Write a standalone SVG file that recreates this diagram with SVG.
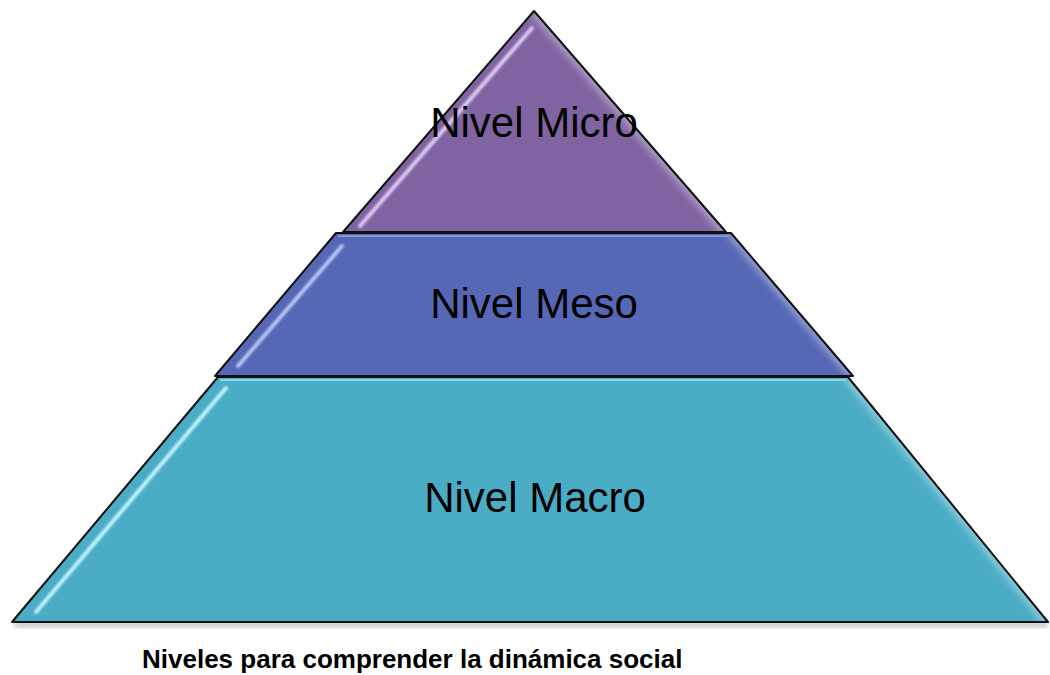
<svg xmlns="http://www.w3.org/2000/svg" width="1050" height="675" viewBox="0 0 1050 675">
<style>
.lbl{font-family:"Liberation Sans",Arial,sans-serif;font-size:42px;fill:#000;text-anchor:middle}
.cap{font-family:"Liberation Sans",Arial,sans-serif;font-size:26px;font-weight:bold;fill:#000}
.edge{fill:none;stroke:#111;stroke-width:2;stroke-linejoin:round}
.hl{fill:none;stroke-width:4;stroke-linecap:round;filter:url(#soft)}
.rs{fill:none;stroke:#ffffff;stroke-opacity:0.35;stroke-width:10;filter:url(#blur4)}
</style>
<defs>
<filter id="soft" x="-20%" y="-20%" width="140%" height="140%"><feGaussianBlur stdDeviation="0.8"/></filter>
<filter id="blur4" x="-20%" y="-20%" width="140%" height="140%"><feGaussianBlur stdDeviation="3"/></filter>
<filter id="shadow" x="-10%" y="-10%" width="120%" height="140%"><feGaussianBlur stdDeviation="2.5"/></filter>
<clipPath id="cMicro"><polygon points="534,11 343,232 726,232"/></clipPath>
<clipPath id="cMeso"><polygon points="336,233 731,233 853,376 215,376"/></clipPath>
<clipPath id="cMacro"><polygon points="218,377 848,377 1048,622 12,622"/></clipPath>
</defs>

<g id="shadow-base">
<rect x="14" y="622" width="1034" height="5" fill="#000" opacity="0.25" filter="url(#shadow)"/>
</g>

<g id="macro">
<polygon points="218,377 848,377 1048,622 12,622" fill="#4bacc6"/>
<g clip-path="url(#cMacro)">
<line class="rs" x1="848" y1="377" x2="1048" y2="622"/>
<line x1="220" y1="380" x2="846" y2="380" stroke="#a8e4f2" stroke-width="2" opacity="0.7"/>
<line class="hl" stroke="#bff4ff" x1="226" y1="388" x2="36" y2="612"/>
</g>
<polygon class="edge" points="218,377 848,377 1048,622 12,622"/>
<text class="lbl" x="535" y="512">Nivel Macro</text>
</g>

<g id="meso">
<polygon points="336,233 731,233 853,376 215,376" fill="#5567b5"/>
<g clip-path="url(#cMeso)">
<line class="rs" x1="731" y1="233" x2="853" y2="376"/>
<line x1="338" y1="236" x2="729" y2="236" stroke="#9aa8e0" stroke-width="2" opacity="0.7"/>
<line class="hl" stroke="#b8c6f4" x1="342" y1="246" x2="238" y2="366"/>
</g>
<polygon class="edge" points="336,233 731,233 853,376 215,376"/>
<text class="lbl" x="534" y="318">Nivel Meso</text>
</g>

<g id="micro">
<polygon points="534,11 343,232 726,232" fill="#8064a2"/>
<g clip-path="url(#cMicro)">
<line class="rs" x1="534" y1="11" x2="726" y2="232"/>
<line class="hl" stroke="#dccbf4" x1="532" y1="28" x2="360" y2="226"/>
</g>
<polygon class="edge" points="534,11 343,232 726,232"/>
<text class="lbl" x="534" y="137">Nivel Micro</text>
</g>

<text class="cap" x="142" y="668">Niveles para comprender la dinámica social</text>
</svg>
